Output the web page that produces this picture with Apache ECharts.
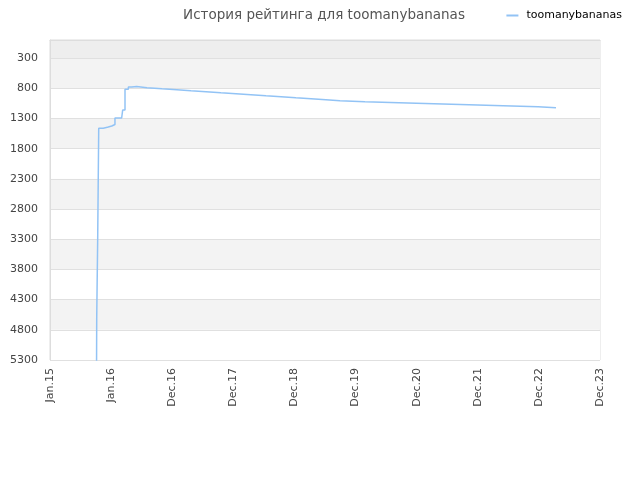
<!DOCTYPE html>
<html>
<head>
<meta charset="utf-8">
<script src="https://cdn.jsdelivr.net/npm/echarts@6/dist/echarts.min.js"></script>
<style>html,body{margin:0;padding:0;background:#fff}#c{width:640px;height:480px}</style>
</head>
<body>
<div id="c"></div>
<script>
const dates = ['2015-10-06','2015-10-07','2015-10-13','2015-10-19','2015-11-15','2015-12-15','2016-01-05','2016-01-24','2016-03-04','2016-03-10','2016-03-24','2016-04-13','2016-05-03','2016-06-02','2016-08-02','2016-10-31','2017-01-28','2017-04-22','2017-07-21','2017-10-18','2018-01-16','2018-04-15','2018-07-14','2018-10-12','2019-01-09','2019-04-09','2019-07-07','2019-09-29','2020-02-25','2020-09-16','2021-04-12','2021-11-08','2022-05-30','2022-12-25','2023-04-11'];
const ranks = [5400,4620,3257,1460,1440,1425,1400,1292,1310,1160,815,780,772,790,807,823,840,856,873,889,906,923,939,956,972,989,1005,1022,1039,1055,1072,1088,1105,1121,1121];
const seriesName = 'toomanybananas';
const titleText = 'История рейтинга для toomanybananas';
const monthNames = ['Jan','Feb','Mar','Apr','May','Jun','Jul','Aug','Sep','Oct','Nov','Dec'];

const DAY = 86400000;
const xMin = Date.UTC(2015,0,1);
const xInterval = 365*DAY;
const xMax = xMin + 9*xInterval;

function toTs(s){const p=s.split('-');return Date.UTC(+p[0],+p[1]-1,+p[2]);}
const seriesData = dates.map((d,i)=>[toTs(d), -ranks[i]]);

const bandColors = ['#ffffff','#f3f3f3','#ffffff','#f3f3f3','#ffffff','#f3f3f3','#ffffff','#f3f3f3','#ffffff','#f3f3f3','#eeeeee'];

const chart = echarts.init(document.getElementById('c'));
chart.setOption({
  animation:false,
  backgroundColor:'#fff',
  title:{text:titleText,left:319,textAlign:'center',top:3,textStyle:{fontFamily:'DejaVu Sans',fontSize:13.5,fontWeight:'normal',color:'#555'}},
  legend:{right:13,top:5,itemWidth:12,itemHeight:2,icon:'rect',textStyle:{fontFamily:'DejaVu Sans',fontSize:11,color:'#000',padding:[0,0,0,3]},data:[seriesName]},
  grid:{left:50,right:40,top:40,bottom:120,show:true,borderColor:'#dddddd',borderWidth:1,backgroundColor:'transparent'},
  xAxis:{type:'value',min:xMin,max:xMax,interval:xInterval,
    axisLine:{show:true,lineStyle:{color:'#dddddd'}},axisTick:{show:false},splitLine:{show:false},
    axisLabel:{rotate:90,margin:8,fontFamily:'DejaVu Sans',fontSize:11,color:'#444',
      formatter:function(v){const d=new Date(v);return monthNames[d.getUTCMonth()]+'.'+String(d.getUTCFullYear()).slice(2);}}},
  yAxis:{type:'value',min:-5300,max:0,interval:500,
    axisLine:{show:true,lineStyle:{color:'#dddddd'}},axisTick:{show:false},
    splitLine:{show:true,lineStyle:{color:'#e0e0e0'}},
    splitArea:{show:true,areaStyle:{color:bandColors}},
    axisLabel:{showMaxLabel:false,margin:12,fontFamily:'DejaVu Sans',fontSize:11,color:'#444',formatter:function(v){return String(-v);}}},
  series:[{name:seriesName,type:'line',step:'end',symbol:'none',data:seriesData,
    lineStyle:{color:'#92c3f5',width:1.5},itemStyle:{color:'#92c3f5'}}]
});
</script>
</body>
</html>
